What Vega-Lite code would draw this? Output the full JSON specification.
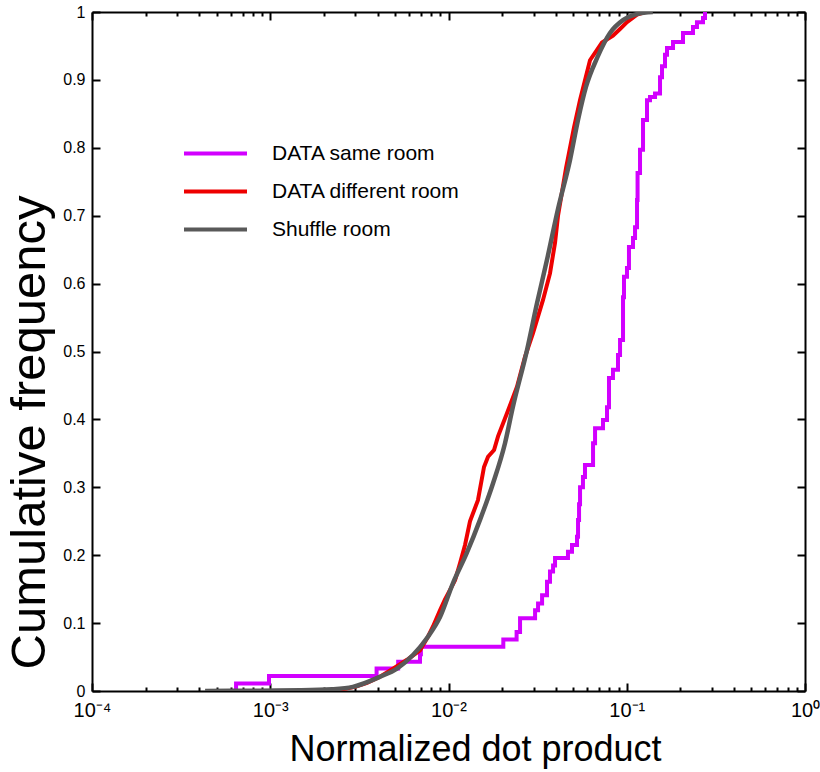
{
  "$schema": "https://vega.github.io/schema/vega-lite/v6.json",
  "width": 713,
  "height": 679,
  "autosize": {"type": "none"},
  "padding": {"left": 92, "top": 12, "right": 15, "bottom": 81},
  "background": "white",
  "config": {
    "view": {"stroke": null},
    "font": "Liberation Sans",
    "axis": {
      "grid": false,
      "domainColor": "black",
      "domainWidth": 2,
      "tickColor": "black",
      "tickWidth": 2,
      "labelColor": "black",
      "labelFont": "Liberation Sans",
      "titleFont": "Liberation Sans",
      "titleColor": "black",
      "titleFontWeight": "normal",
      "labelFlush": false,
      "labelOverlap": false,
      "labelBound": false
    }
  },
  "data": {
    "values": [
      {"series": "DATA same room", "x": 0.000643, "y": 0},
      {"series": "DATA same room", "x": 0.000643, "y": 0.011},
      {"series": "DATA same room", "x": 0.000984, "y": 0.022},
      {"series": "DATA same room", "x": 0.00395, "y": 0.033},
      {"series": "DATA same room", "x": 0.00522, "y": 0.043},
      {"series": "DATA same room", "x": 0.00692, "y": 0.054},
      {"series": "DATA same room", "x": 0.0070, "y": 0.065},
      {"series": "DATA same room", "x": 0.0203, "y": 0.076},
      {"series": "DATA same room", "x": 0.0241, "y": 0.087},
      {"series": "DATA same room", "x": 0.0252, "y": 0.107},
      {"series": "DATA same room", "x": 0.0306, "y": 0.119},
      {"series": "DATA same room", "x": 0.0318, "y": 0.129},
      {"series": "DATA same room", "x": 0.0335, "y": 0.141},
      {"series": "DATA same room", "x": 0.0357, "y": 0.161},
      {"series": "DATA same room", "x": 0.0371, "y": 0.176},
      {"series": "DATA same room", "x": 0.0386, "y": 0.185},
      {"series": "DATA same room", "x": 0.0396, "y": 0.196},
      {"series": "DATA same room", "x": 0.0468, "y": 0.205},
      {"series": "DATA same room", "x": 0.0493, "y": 0.215},
      {"series": "DATA same room", "x": 0.0526, "y": 0.227},
      {"series": "DATA same room", "x": 0.0533, "y": 0.252},
      {"series": "DATA same room", "x": 0.0540, "y": 0.275},
      {"series": "DATA same room", "x": 0.0547, "y": 0.300},
      {"series": "DATA same room", "x": 0.0568, "y": 0.315},
      {"series": "DATA same room", "x": 0.0583, "y": 0.333},
      {"series": "DATA same room", "x": 0.0647, "y": 0.365},
      {"series": "DATA same room", "x": 0.0664, "y": 0.387},
      {"series": "DATA same room", "x": 0.0736, "y": 0.399},
      {"series": "DATA same room", "x": 0.0775, "y": 0.418},
      {"series": "DATA same room", "x": 0.0795, "y": 0.461},
      {"series": "DATA same room", "x": 0.0837, "y": 0.473},
      {"series": "DATA same room", "x": 0.0893, "y": 0.495},
      {"series": "DATA same room", "x": 0.0917, "y": 0.517},
      {"series": "DATA same room", "x": 0.0953, "y": 0.580},
      {"series": "DATA same room", "x": 0.0965, "y": 0.610},
      {"series": "DATA same room", "x": 0.1003, "y": 0.623},
      {"series": "DATA same room", "x": 0.1029, "y": 0.654},
      {"series": "DATA same room", "x": 0.1084, "y": 0.667},
      {"series": "DATA same room", "x": 0.1113, "y": 0.683},
      {"series": "DATA same room", "x": 0.1142, "y": 0.723},
      {"series": "DATA same room", "x": 0.1150, "y": 0.763},
      {"series": "DATA same room", "x": 0.1187, "y": 0.797},
      {"series": "DATA same room", "x": 0.1234, "y": 0.841},
      {"series": "DATA same room", "x": 0.1299, "y": 0.870},
      {"series": "DATA same room", "x": 0.1350, "y": 0.875},
      {"series": "DATA same room", "x": 0.1441, "y": 0.880},
      {"series": "DATA same room", "x": 0.1537, "y": 0.904},
      {"series": "DATA same room", "x": 0.1577, "y": 0.920},
      {"series": "DATA same room", "x": 0.1639, "y": 0.937},
      {"series": "DATA same room", "x": 0.1682, "y": 0.947},
      {"series": "DATA same room", "x": 0.1818, "y": 0.956},
      {"series": "DATA same room", "x": 0.2068, "y": 0.969},
      {"series": "DATA same room", "x": 0.2353, "y": 0.978},
      {"series": "DATA same room", "x": 0.2477, "y": 0.985},
      {"series": "DATA same room", "x": 0.2678, "y": 0.991},
      {"series": "DATA same room", "x": 0.2748, "y": 1.0},

      {"series": "DATA different room", "x": 0.001901, "y": 0},
      {"series": "DATA different room", "x": 0.002462, "y": 0.002},
      {"series": "DATA different room", "x": 0.002989, "y": 0.006},
      {"series": "DATA different room", "x": 0.00349, "y": 0.012},
      {"series": "DATA different room", "x": 0.00413, "y": 0.021},
      {"series": "DATA different room", "x": 0.004883, "y": 0.033},
      {"series": "DATA different room", "x": 0.005852, "y": 0.046},
      {"series": "DATA different room", "x": 0.006921, "y": 0.060},
      {"series": "DATA different room", "x": 0.00767, "y": 0.080},
      {"series": "DATA different room", "x": 0.008185, "y": 0.095},
      {"series": "DATA different room", "x": 0.00896, "y": 0.119},
      {"series": "DATA different room", "x": 0.009559, "y": 0.135},
      {"series": "DATA different room", "x": 0.0102, "y": 0.149},
      {"series": "DATA different room", "x": 0.01088, "y": 0.163},
      {"series": "DATA different room", "x": 0.0116, "y": 0.188},
      {"series": "DATA different room", "x": 0.01238, "y": 0.215},
      {"series": "DATA different room", "x": 0.0132, "y": 0.250},
      {"series": "DATA different room", "x": 0.01463, "y": 0.281},
      {"series": "DATA different room", "x": 0.01582, "y": 0.330},
      {"series": "DATA different room", "x": 0.01666, "y": 0.345},
      {"series": "DATA different room", "x": 0.01801, "y": 0.355},
      {"series": "DATA different room", "x": 0.01896, "y": 0.375},
      {"series": "DATA different room", "x": 0.02129, "y": 0.409},
      {"series": "DATA different room", "x": 0.02423, "y": 0.448},
      {"series": "DATA different room", "x": 0.02686, "y": 0.492},
      {"series": "DATA different room", "x": 0.02979, "y": 0.527},
      {"series": "DATA different room", "x": 0.0339, "y": 0.576},
      {"series": "DATA different room", "x": 0.0371, "y": 0.615},
      {"series": "DATA different room", "x": 0.03958, "y": 0.660},
      {"series": "DATA different room", "x": 0.04115, "y": 0.700},
      {"series": "DATA different room", "x": 0.04563, "y": 0.770},
      {"series": "DATA different room", "x": 0.05059, "y": 0.830},
      {"series": "DATA different room", "x": 0.05466, "y": 0.870},
      {"series": "DATA different room", "x": 0.0622, "y": 0.929},
      {"series": "DATA different room", "x": 0.07264, "y": 0.955},
      {"series": "DATA different room", "x": 0.08372, "y": 0.965},
      {"series": "DATA different room", "x": 0.09165, "y": 0.975},
      {"series": "DATA different room", "x": 0.1003, "y": 0.985},
      {"series": "DATA different room", "x": 0.1142, "y": 0.996},
      {"series": "DATA different room", "x": 0.1266, "y": 1.0},

      {"series": "Shuffle room", "x": 0.000431, "y": 0},
      {"series": "Shuffle room", "x": 0.000876, "y": 0.0005},
      {"series": "Shuffle room", "x": 0.001468, "y": 0.001},
      {"series": "Shuffle room", "x": 0.00222, "y": 0.0025},
      {"series": "Shuffle room", "x": 0.00291, "y": 0.006},
      {"series": "Shuffle room", "x": 0.00413, "y": 0.021},
      {"series": "Shuffle room", "x": 0.00514, "y": 0.033},
      {"series": "Shuffle room", "x": 0.00632, "y": 0.053},
      {"series": "Shuffle room", "x": 0.00767, "y": 0.080},
      {"series": "Shuffle room", "x": 0.00896, "y": 0.109},
      {"series": "Shuffle room", "x": 0.0106, "y": 0.159},
      {"series": "Shuffle room", "x": 0.01265, "y": 0.203},
      {"series": "Shuffle room", "x": 0.01502, "y": 0.252},
      {"series": "Shuffle room", "x": 0.01778, "y": 0.306},
      {"series": "Shuffle room", "x": 0.02075, "y": 0.365},
      {"series": "Shuffle room", "x": 0.0230, "y": 0.419},
      {"series": "Shuffle room", "x": 0.02756, "y": 0.502},
      {"series": "Shuffle room", "x": 0.03137, "y": 0.571},
      {"series": "Shuffle room", "x": 0.03569, "y": 0.635},
      {"series": "Shuffle room", "x": 0.04115, "y": 0.710},
      {"series": "Shuffle room", "x": 0.04805, "y": 0.782},
      {"series": "Shuffle room", "x": 0.05327, "y": 0.841},
      {"series": "Shuffle room", "x": 0.05909, "y": 0.890},
      {"series": "Shuffle room", "x": 0.0681, "y": 0.932},
      {"series": "Shuffle room", "x": 0.08054, "y": 0.969},
      {"series": "Shuffle room", "x": 0.09528, "y": 0.988},
      {"series": "Shuffle room", "x": 0.1142, "y": 0.997},
      {"series": "Shuffle room", "x": 0.1400, "y": 1.0}
    ]
  },
  "layer": [
    {
      "transform": [{"filter": "datum.series === 'DATA same room'"}],
      "mark": {"type": "line", "interpolate": "step-after", "strokeWidth": 4, "clip": true},
      "encoding": {
        "x": {
          "field": "x", "type": "quantitative",
          "scale": {"type": "log", "domain": [0.0001, 1], "nice": false},
          "axis": {
            "orient": "bottom",
            "values": [0.0001,0.0002,0.0003,0.0004,0.0005,0.0006,0.0007,0.0008,0.0009,0.001,0.002,0.003,0.004,0.005,0.006,0.007,0.008,0.009,0.01,0.02,0.03,0.04,0.05,0.06,0.07,0.08,0.09,0.1,0.2,0.3,0.4,0.5,0.6,0.7,0.8,0.9,1],
            "labelExpr": "abs(log(datum.value)/LN10 - round(log(datum.value)/LN10)) < 0.001 ? ['10⁻⁴','10⁻³','10⁻²','10⁻¹','10⁰'][round(log(datum.value)/LN10)+4] : ''",
            "tickSize": {"condition": {"test": "abs(log(datum.value)/LN10 - round(log(datum.value)/LN10)) < 0.001", "value": -8}, "value": -4},
            "labelPadding": 17,
            "labelFontSize": 20,
            "title": "Normalized dot product",
            "titleFontSize": 36,
            "titleX": 383,
            "titleY": 69,
            "titleAlign": "center",
            "titleBaseline": "alphabetic"
          }
        },
        "y": {
          "field": "y", "type": "quantitative",
          "scale": {"domain": [0, 1], "nice": false},
          "axis": {
            "orient": "left",
            "values": [0,0.1,0.2,0.3,0.4,0.5,0.6,0.7,0.8,0.9,1],
            "format": ".1~f",
            "tickSize": -8,
            "labelPadding": 15,
            "labelFontSize": 16,
            "title": "Cumulative frequency",
            "titleFontSize": 49,
            "titleAngle": 270,
            "titleX": -63,
            "titleY": 420,
            "titleAlign": "center",
            "titleBaseline": "middle"
          }
        },
        "color": {
          "field": "series", "type": "nominal",
          "scale": {"domain": ["DATA same room", "DATA different room", "Shuffle room"], "range": ["#d200ff", "#ee0000", "#595959"]},
          "legend": {
            "orient": "none", "legendX": 111, "legendY": 129, "title": null,
            "symbolType": "M-3,0H3", "symbolSize": 441, "symbolStrokeWidth": 4,
            "labelFontSize": 21, "labelOffset": 44, "rowPadding": 15, "padding": 0,
            "labelLimit": 0,
            "labelFont": "Liberation Sans", "labelColor": "black"
          }
        },
        "order": {"field": "y", "type": "quantitative"}
      }
    },
    {
      "transform": [{"filter": "datum.series === 'DATA different room'"}],
      "mark": {"type": "line", "strokeWidth": 4, "clip": true},
      "encoding": {
        "x": {
          "field": "x", "type": "quantitative",
          "scale": {"type": "log", "domain": [0.0001, 1], "nice": false},
          "axis": {
            "orient": "top",
            "values": [0.0001,0.0002,0.0003,0.0004,0.0005,0.0006,0.0007,0.0008,0.0009,0.001,0.002,0.003,0.004,0.005,0.006,0.007,0.008,0.009,0.01,0.02,0.03,0.04,0.05,0.06,0.07,0.08,0.09,0.1,0.2,0.3,0.4,0.5,0.6,0.7,0.8,0.9,1],
            "labels": false,
            "tickSize": {"condition": {"test": "abs(log(datum.value)/LN10 - round(log(datum.value)/LN10)) < 0.001", "value": -8}, "value": -4},
            "title": null
          }
        },
        "y": {
          "field": "y", "type": "quantitative",
          "scale": {"domain": [0, 1], "nice": false},
          "axis": {
            "orient": "right",
            "values": [0,0.1,0.2,0.3,0.4,0.5,0.6,0.7,0.8,0.9,1],
            "labels": false,
            "tickSize": -8,
            "title": null
          }
        },
        "color": {"field": "series", "type": "nominal"},
        "order": {"field": "y", "type": "quantitative"}
      }
    },
    {
      "transform": [{"filter": "datum.series === 'Shuffle room'"}],
      "mark": {"type": "line", "interpolate": "monotone", "strokeWidth": 4.5, "clip": true},
      "encoding": {
        "x": {"field": "x", "type": "quantitative", "scale": {"type": "log", "domain": [0.0001, 1], "nice": false}, "axis": null},
        "y": {"field": "y", "type": "quantitative", "scale": {"domain": [0, 1], "nice": false}, "axis": null},
        "color": {"field": "series", "type": "nominal"},
        "order": {"field": "y", "type": "quantitative"}
      }
    }
  ],
  "resolve": {"axis": {"x": "independent", "y": "independent"}}
}
